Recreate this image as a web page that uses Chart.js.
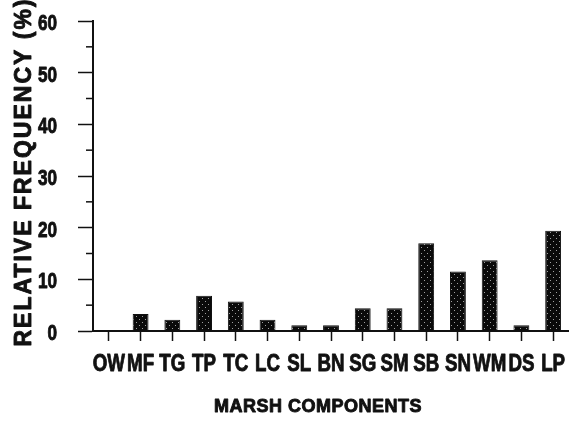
<!DOCTYPE html>
<html>
<head>
<meta charset="utf-8">
<script src="https://cdn.jsdelivr.net/npm/chart.js@4.4.1/dist/chart.umd.min.js"></script>
<style>
  html, body { margin: 0; padding: 0; background: #fff; }
  #contenedor { width: 569px; height: 421px; }
</style>
</head>
<body>
<div id="contenedor"><canvas id="grafica"></canvas></div>
<script>
// Componentes del marjal y frecuencia relativa (%)
const componentes = ['OW', 'MF', 'TG', 'TP', 'TC', 'LC', 'SL', 'BN', 'SG', 'SM', 'SB', 'SN', 'WM', 'DS', 'LP'];
const frecuencia = [0, 3.3, 2.2, 6.8, 5.7, 2.2, 1.1, 1.1, 4.4, 4.4, 17.0, 11.5, 13.7, 1.1, 19.4];
const ticksMenores = [5, 15, 25, 35, 45, 55];
const tituloY = 'RELATIVE FREQUENCY (%)';
const tituloX = 'MARSH COMPONENTS';

const NEGRO = '#111';
const FUENTE = "'Liberation Sans', Arial, sans-serif";

// Trama punteada de las barras: fondo negro con puntos claros
function crearTrama() {
    const c = document.createElement('canvas');
    c.width = 6;
    c.height = 6;
    const g = c.getContext('2d');
    g.fillStyle = '#0a0a0a';
    g.fillRect(0, 0, 6, 6);
    g.fillStyle = '#a0a0a0';
    g.fillRect(1, 1, 1, 1);
    g.fillRect(4, 4, 1, 1);
    return g.createPattern(c, 'repeat');
}

// Texto estrecho y grueso: negrita comprimida en horizontal, con trazo
function textoEstrecho(ctx, texto, x, y, align, escala) {
    ctx.save();
    ctx.translate(x, y);
    ctx.scale(escala, 1);
    ctx.textAlign = align;
    ctx.fillText(texto, 0, 0);
    ctx.strokeText(texto, 0, 0);
    ctx.restore();
}

// Marcas menores, etiquetas de los ejes y títulos
const ejesExtra = {
    id: 'ejesExtra',
    afterDraw(chart) {
        const ctx = chart.ctx;
        const { x, y } = chart.scales;
        ctx.save();
        ctx.strokeStyle = NEGRO;
        ctx.lineWidth = 1.5;
        ticksMenores.forEach(v => {
            const py = y.getPixelForValue(v);
            ctx.beginPath();
            ctx.moveTo(y.right - 7, py);
            ctx.lineTo(y.right, py);
            ctx.stroke();
        });

        ctx.fillStyle = NEGRO;
        ctx.lineWidth = 0.9;
        ctx.lineJoin = 'round';
        ctx.textBaseline = 'alphabetic';

        // números del eje Y
        ctx.font = 'bold 22px ' + FUENTE;
        y.ticks.forEach((t, i) => {
            textoEstrecho(ctx, String(t.value), 57, y.getPixelForTick(i) + 9, 'right', 0.78);
        });

        // nombres de los componentes
        ctx.font = 'bold 24px ' + FUENTE;
        x.ticks.forEach((t, i) => {
            textoEstrecho(ctx, componentes[i], x.getPixelForTick(i), 371, 'center', 0.78);
        });

        // título del eje X
        ctx.font = 'bold 18px ' + FUENTE;
        ctx.letterSpacing = '0.5px';
        ctx.textAlign = 'center';
        ctx.fillText(tituloX, 318, 412);
        ctx.strokeText(tituloX, 318, 412);

        // título vertical del eje Y
        ctx.translate(25, 172);
        ctx.rotate(-Math.PI / 2);
        ctx.font = 'bold 23px ' + FUENTE;
        ctx.letterSpacing = '2px';
        ctx.textAlign = 'center';
        ctx.textBaseline = 'middle';
        ctx.fillText(tituloY, 0, 0);
        ctx.strokeText(tituloY, 0, 0);
        ctx.restore();
    }
};

const ctx = document.getElementById('grafica').getContext('2d');

new Chart(ctx, {
    type: 'bar',
    data: {
        labels: componentes,
        datasets: [{
            data: frecuencia,
            backgroundColor: crearTrama(),
            borderColor: NEGRO,
            borderWidth: 1,
            borderSkipped: 'start',
            barPercentage: 0.5,
            categoryPercentage: 1.0
        }]
    },
    options: {
        responsive: true,
        maintainAspectRatio: false,
        animation: false,
        layout: { padding: { top: 21, right: 0, left: 0, bottom: 0 } },
        plugins: {
            legend: { display: false },
            tooltip: { enabled: false }
        },
        scales: {
            x: {
                offset: true,
                grid: {
                    offset: false,
                    drawOnChartArea: false,
                    drawTicks: true,
                    tickLength: 10,
                    tickColor: NEGRO,
                    tickWidth: 1.5
                },
                border: { display: true, color: NEGRO, width: 2 },
                ticks: { display: false, autoSkip: false },
                afterFit(scale) { scale.height = 90; }
            },
            y: {
                min: 0,
                max: 60,
                ticks: { display: false, stepSize: 10 },
                grid: {
                    drawOnChartArea: false,
                    drawTicks: true,
                    tickLength: 15,
                    tickColor: NEGRO,
                    tickWidth: 1.5
                },
                border: { display: true, color: NEGRO, width: 2 },
                afterFit(scale) { scale.width = 93; }
            }
        }
    },
    plugins: [ejesExtra]
});
</script>
</body>
</html>
